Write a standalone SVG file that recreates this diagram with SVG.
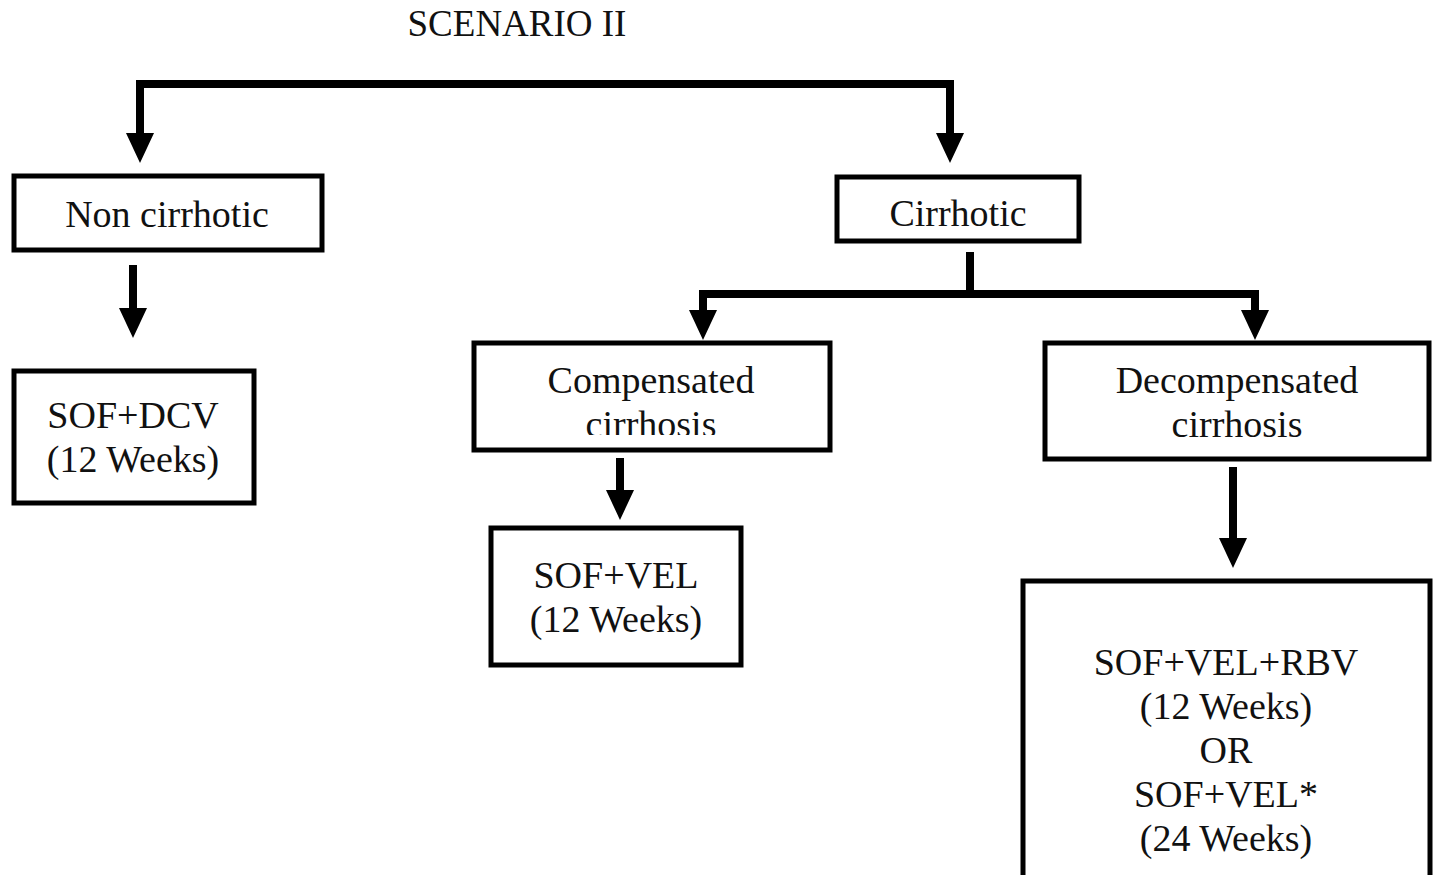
<svg xmlns="http://www.w3.org/2000/svg" width="1434" height="875" viewBox="0 0 1434 875">
<style>
.box{fill:#fff;stroke:#000;stroke-width:5}
.t{font-family:"Liberation Serif","Times New Roman",serif;font-size:38px;fill:#111;text-anchor:middle}
.title{font-family:"Liberation Serif","Times New Roman",serif;font-size:37px;fill:#111;text-anchor:middle}
.c{fill:none;stroke:#000;stroke-width:8;stroke-linejoin:miter;stroke-linecap:butt}
</style>
<defs>
<marker id="ah" markerUnits="userSpaceOnUse" viewBox="0 0 30 28" refX="0" refY="14" markerWidth="30" markerHeight="28" orient="auto">
<path d="M0,0 L30,14 L0,28 z" fill="#000"/>
</marker>
<clipPath id="clipComp"><rect x="470" y="340" width="365" height="95"/></clipPath>
</defs>
<rect width="1434" height="875" fill="#fff"/>
<text class="title" x="517" y="36">SCENARIO II</text>
<g id="connectors">
<path class="c" d="M545,84 H140 V133" marker-end="url(#ah)"/>
<path class="c" d="M545,84 H950 V133" marker-end="url(#ah)"/>
<path class="c" d="M133,265 V308" marker-end="url(#ah)"/>
<path class="c" d="M970,252 V294 H703 V310" marker-end="url(#ah)"/>
<path class="c" d="M970,294 H1255 V310" marker-end="url(#ah)"/>
<path class="c" d="M620,458 V490" marker-end="url(#ah)"/>
<path class="c" d="M1233,467 V538" marker-end="url(#ah)"/>
</g>
<g id="non-cirrhotic">
<rect class="box" x="14" y="176" width="308" height="74"/>
<text class="t" x="167" y="227">Non cirrhotic</text>
</g>
<g id="sof-dcv">
<rect class="box" x="14" y="371" width="240" height="132"/>
<text class="t" x="133" y="428">SOF+DCV</text>
<text class="t" x="133" y="472">(12 Weeks)</text>
</g>
<g id="cirrhotic">
<rect class="box" x="837" y="177" width="242" height="64"/>
<text class="t" x="958" y="226">Cirrhotic</text>
</g>
<g id="compensated">
<rect class="box" x="474" y="343" width="356" height="107"/>
<text class="t" x="651" y="393">Compensated</text>
<text class="t" x="651" y="437" clip-path="url(#clipComp)">cirrhosis</text>
</g>
<g id="sof-vel">
<rect class="box" x="491" y="528" width="250" height="137"/>
<text class="t" x="616" y="588">SOF+VEL</text>
<text class="t" x="616" y="632">(12 Weeks)</text>
</g>
<g id="decompensated">
<rect class="box" x="1045" y="343" width="384" height="116"/>
<text class="t" x="1237" y="393">Decompensated</text>
<text class="t" x="1237" y="437">cirrhosis</text>
</g>
<g id="final">
<rect class="box" x="1023" y="581" width="407" height="300"/>
<text class="t" x="1226" y="675">SOF+VEL+RBV</text>
<text class="t" x="1226" y="719">(12 Weeks)</text>
<text class="t" x="1226" y="763">OR</text>
<text class="t" x="1226" y="807">SOF+VEL*</text>
<text class="t" x="1226" y="851">(24 Weeks)</text>
</g>
</svg>
